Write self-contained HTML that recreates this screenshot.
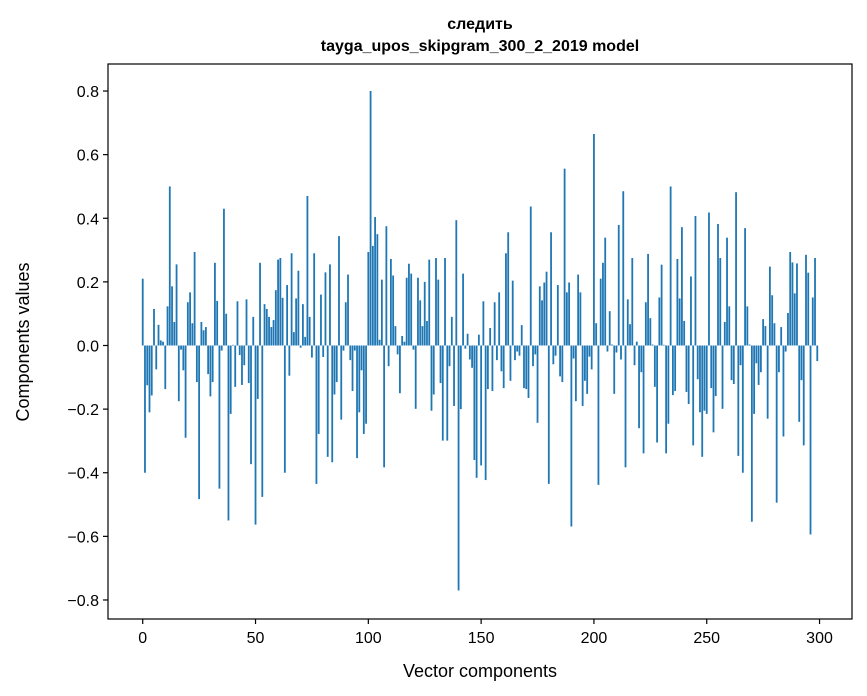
<!DOCTYPE html>
<html><head><meta charset="utf-8"><style>
body{margin:0;background:#fff;}
svg{display:block;font-family:"Liberation Sans","DejaVu Sans",sans-serif;}
</style></head><body>
<svg id="chart" width="867" height="696" viewBox="0 0 867 696" xmlns="http://www.w3.org/2000/svg">
<rect x="0" y="0" width="867" height="696" fill="#fff"/>
<text x="480" y="29" text-anchor="middle" font-size="16" font-weight="bold" font-family="Liberation Sans, DejaVu Sans, sans-serif">следить</text>
<text x="480" y="51" text-anchor="middle" font-size="16" font-weight="bold">tayga_upos_skipgram_300_2_2019 model</text>
<g id="bars"></g>
<g id="axes"></g>
<text x="480" y="677" text-anchor="middle" font-size="18">Vector components</text>
<text transform="translate(29,342) rotate(-90)" text-anchor="middle" font-size="18">Components values</text>
</svg>
<script>
const componentValues = [
0.21,-0.40,-0.125,-0.21,-0.157,0.115,-0.075,0.065,0.016,0.012,
-0.137,0.123,0.50,0.186,0.074,0.255,-0.175,-0.013,-0.078,-0.29,
0.136,0.167,0.07,0.294,-0.115,-0.483,0.074,0.048,0.058,-0.09,
-0.16,-0.115,0.26,0.14,-0.45,-0.016,0.43,0.10,-0.55,-0.215,
0.002,-0.13,0.139,-0.03,-0.124,-0.062,0.145,-0.118,-0.373,0.09,
-0.563,-0.168,0.26,-0.476,0.13,0.115,0.09,0.058,0.08,0.174,
0.27,0.275,0.15,-0.40,0.19,-0.095,0.29,0.042,0.148,0.235,
-0.007,0.13,0.027,0.47,0.09,-0.038,0.29,-0.435,-0.278,0.16,
-0.036,0.23,-0.35,0.255,-0.367,-0.154,-0.115,0.344,-0.233,-0.016,
0.136,0.223,-0.046,-0.143,-0.016,-0.354,-0.21,-0.078,-0.278,-0.246,
0.294,0.80,0.313,0.404,0.35,0.018,0.207,-0.383,0.375,-0.065,
0.272,0.22,0.061,-0.028,-0.15,0.03,0.012,0.213,0.257,0.226,
-0.013,-0.199,0.213,0.142,0.061,0.2,0.077,0.27,-0.205,-0.154,
0.275,0.207,-0.118,-0.299,0.275,-0.299,-0.065,0.09,-0.19,0.394,
-0.77,-0.2,0.226,-0.01,0.037,-0.044,-0.07,-0.36,-0.416,0.034,
-0.377,0.139,-0.423,-0.137,0.055,-0.143,0.136,-0.046,0.167,-0.081,
-0.134,0.29,0.356,-0.111,0.204,-0.046,-0.019,-0.032,0.064,-0.134,
-0.137,-0.165,0.437,-0.065,-0.028,-0.243,0.186,0.142,0.198,0.232,
-0.435,0.356,-0.059,-0.032,0.19,-0.097,-0.115,0.556,0.167,0.198,
-0.569,-0.041,-0.175,0.223,0.167,-0.19,-0.111,-0.152,-0.035,-0.075,
0.665,0.07,-0.438,0.21,0.26,0.339,-0.019,0.108,0.003,-0.152,
-0.022,0.379,-0.044,0.485,-0.383,0.145,0.067,0.275,-0.062,0.012,
-0.26,-0.084,-0.339,0.136,0.288,0.086,0.003,-0.13,-0.305,0.151,
0.254,0.002,-0.339,-0.246,0.5,-0.156,-0.143,0.272,0.148,0.372,
0.077,-0.146,-0.184,0.217,-0.314,0.407,-0.106,-0.21,-0.35,-0.205,
-0.215,0.418,-0.134,-0.273,-0.159,0.382,0.275,-0.199,0.074,0.339,
0.123,-0.109,-0.121,0.482,-0.347,-0.062,-0.40,0.369,0.123,0.003,
-0.554,-0.215,-0.056,-0.124,-0.084,0.083,0.061,-0.23,0.248,0.158,
0.07,-0.494,-0.084,0.058,-0.286,-0.019,0.102,0.294,0.261,0.164,
0.258,-0.24,-0.109,-0.314,0.285,0.229,-0.594,0.151,0.275,-0.049
];
const xTickValues = [0,50,100,150,200,250,300];
const yTickValues = [-0.8,-0.6,-0.4,-0.2,0.0,0.2,0.4,0.6,0.8];

const L=108,R=852,T=64,B=619;
const xMin=-15.39, xMax=314.39;
const xs = v => L + (v - xMin) / (xMax - xMin) * (R - L);
const ys = v => 345.5 - v * 318.1;
const NS="http://www.w3.org/2000/svg";
const barsG=document.getElementById('bars');
const axesG=document.getElementById('axes');
const bw = 0.8*(R-L)/(xMax-xMin);
componentValues.forEach((v,i)=>{
  const r=document.createElementNS(NS,'rect');
  const y0=ys(0), y1=ys(v);
  r.setAttribute('x', (xs(i)-bw/2).toFixed(2));
  r.setAttribute('y', Math.min(y0,y1).toFixed(2));
  r.setAttribute('width', bw.toFixed(2));
  r.setAttribute('height', Math.max(0.01,Math.abs(y1-y0)).toFixed(2));
  r.setAttribute('fill','#1f77b4');
  
  
  barsG.appendChild(r);
});
const frame=document.createElementNS(NS,'rect');
frame.setAttribute('x',L);frame.setAttribute('y',T);
frame.setAttribute('width',R-L);frame.setAttribute('height',B-T);
frame.setAttribute('fill','none');frame.setAttribute('stroke','#000');frame.setAttribute('stroke-width','1.2');


axesG.appendChild(frame);
xTickValues.forEach(v=>{
  const x=xs(v);
  const l=document.createElementNS(NS,'line');
  l.setAttribute('x1',x);l.setAttribute('x2',x);l.setAttribute('y1',B);l.setAttribute('y2',B+5);
  l.setAttribute('stroke','#000');l.setAttribute('stroke-width','1.2');
  
  
  axesG.appendChild(l);
  const t=document.createElementNS(NS,'text');
  t.setAttribute('x',x);t.setAttribute('y',B+24);t.setAttribute('text-anchor','middle');t.setAttribute('font-size','16');
  t.textContent=String(v);
  
  
  axesG.appendChild(t);
});
yTickValues.forEach(v=>{
  const y=ys(v);
  const l=document.createElementNS(NS,'line');
  l.setAttribute('x1',L-5);l.setAttribute('x2',L);l.setAttribute('y1',y);l.setAttribute('y2',y);
  l.setAttribute('stroke','#000');l.setAttribute('stroke-width','1.2');
  
  
  axesG.appendChild(l);
  const t=document.createElementNS(NS,'text');
  t.setAttribute('x',L-9);t.setAttribute('y',y+6);t.setAttribute('text-anchor','end');t.setAttribute('font-size','16');
  t.textContent=(v<0?'\u2212':'')+Math.abs(v).toFixed(1);
  
  
  axesG.appendChild(t);
});
</script>
</body></html>
